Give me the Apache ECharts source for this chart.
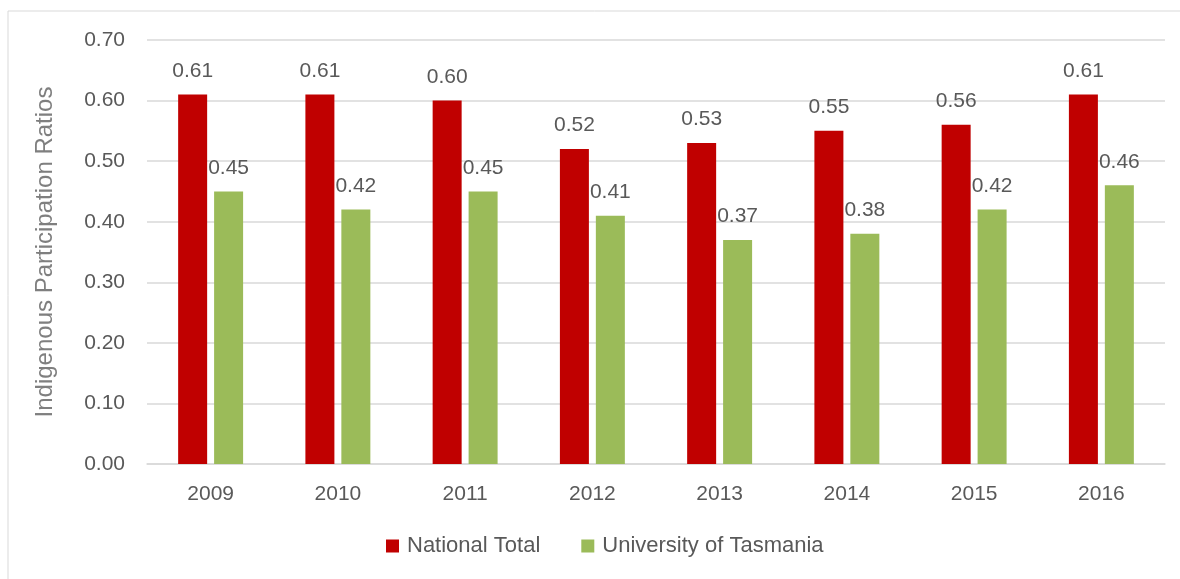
<!DOCTYPE html>
<html lang="en">
<head>
  <meta charset="utf-8" />
  <title>Indigenous Participation Ratios</title>
  <script src="https://cdn.jsdelivr.net/npm/echarts@6.0.0/dist/echarts.min.js"></script>
  <style>
    html, body { margin: 0; padding: 0; background: #fff; }
    #chart { width: 1180px; height: 579px; }
  </style>
</head>
<body>
<div id="chart"></div>
<script type="text/javascript">
    // data
    var years = ['2009', '2010', '2011', '2012', '2013', '2014', '2015', '2016'];
    var nationalTotal = [0.61, 0.61, 0.60, 0.52, 0.53, 0.55, 0.56, 0.61];
    var uniTasmania = [0.45, 0.42, 0.45, 0.41, 0.37, 0.38, 0.42, 0.46];
    var seriesNames = ['National Total', 'University of Tasmania'];

    var chartDom = document.getElementById('chart');
    var myChart = echarts.init(chartDom);
    var font = 'Liberation Sans, sans-serif';

    var labelStyle = {
        show: true,
        position: 'top',
        distance: 13,
        color: '#595959',
        fontSize: 21,
        fontFamily: font,
        formatter: function (p) { return p.value.toFixed(2); }
    };

    var option = {
        animation: false,
        graphic: [{
            type: 'rect',
            shape: { x: 8, y: 11, width: 1180, height: 580 },
            style: { fill: 'none', stroke: '#d9d9d9', lineWidth: 1 }
        }],
        grid: {
            left: 147,
            right: 15,
            top: 40,
            bottom: 115
        },
        legend: {
            bottom: 17,
            left: 381,
            itemWidth: 13,
            itemHeight: 13,
            itemGap: 41,
            icon: 'rect',
            textStyle: { color: '#595959', fontSize: 22, fontFamily: font, padding: [0, 0, 0, 3] },
            data: seriesNames
        },
        xAxis: {
            type: 'category',
            data: years,
            axisLine: { lineStyle: { color: '#d9d9d9', width: 1.5 } },
            axisTick: { show: false },
            axisLabel: { color: '#595959', fontSize: 21, fontFamily: font, margin: 20 }
        },
        yAxis: {
            type: 'value',
            min: 0,
            max: 0.7,
            interval: 0.1,
            name: 'Indigenous Participation Ratios',
            nameLocation: 'middle',
            nameGap: 90,
            nameTextStyle: { color: '#7f7f7f', fontSize: 24, fontFamily: font },
            axisLine: { show: false },
            axisTick: { show: false },
            splitLine: { lineStyle: { color: '#d9d9d9', width: 1.5 } },
            axisLabel: {
                color: '#595959',
                fontSize: 21,
                fontFamily: font,
                margin: 22,
                formatter: function (v) { return v.toFixed(2); }
            }
        },
        series: [
            {
                name: seriesNames[0],
                type: 'bar',
                data: nationalTotal,
                barWidth: 29,
                barGap: '24%',
                itemStyle: { color: '#c00000' },
                label: labelStyle
            },
            {
                name: seriesNames[1],
                type: 'bar',
                data: uniTasmania,
                barWidth: 29,
                itemStyle: { color: '#9bbb59' },
                label: labelStyle
            }
        ]
    };
    myChart.setOption(option);
</script>
</body>
</html>
